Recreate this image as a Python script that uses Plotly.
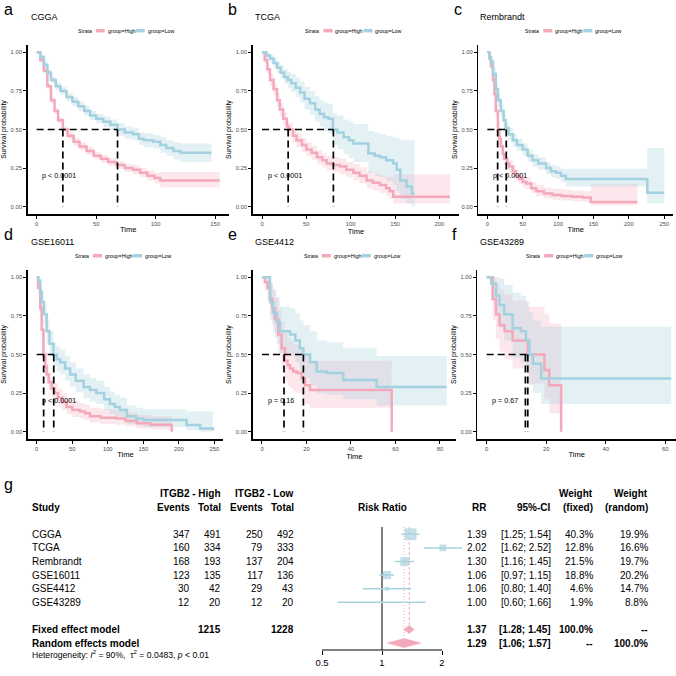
import math
import plotly.graph_objects as go

W = H = 676
FONT = "Liberation Sans, Arial, Helvetica, sans-serif"
PINK = "#F4A9BA"
BLUE = "#A3D1DF"
PINK_FILL = "rgba(244,169,186,0.28)"
BLUE_FILL = "rgba(163,209,223,0.30)"
SQ_BLUE = "#A9D3E0"

# ---------------- Kaplan-Meier data ----------------
datasets = ["CGGA", "TCGA", "Rembrandt", "GSE16011", "GSE4412", "GSE43289"]
panel_letters = ["a", "b", "c", "d", "e", "f"]
pvalues = ["p < 0.0001", "p < 0.0001", "p < 0.0001", "p < 0.0001", "p = 0.16", "p = 0.67"]
max_time = [154, 212, 250, 250, 83, 62]
median_high = [22, 29.5, 14.6, 9.8, 9.9, 13.8]
median_low = [68, 80.5, 26.8, 24, 18.6, 13.0]
x_ticks = [[0, 50, 100, 150], [0, 50, 100, 150, 200], [0, 50, 100, 150, 200, 250],
           [0, 50, 100, 150, 200, 250], [0, 20, 40, 60, 80], [0, 20, 40, 60]]
y_ticks = [0, 0.25, 0.5, 0.75, 1.0]

cgga_high_t = [0, 3, 6, 9, 12, 15, 18, 22, 26, 31, 36, 42, 48, 54, 60, 67, 74, 81, 87, 93, 99, 104, 154]
cgga_high_s = [1.00, 0.95, 0.88, 0.78, 0.69, 0.62, 0.56, 0.50, 0.46, 0.42, 0.39, 0.36, 0.33, 0.31, 0.29, 0.27, 0.25, 0.24, 0.22, 0.20, 0.185, 0.17, 0.17]
cgga_high_lo = [1.00, 0.93, 0.86, 0.76, 0.67, 0.60, 0.54, 0.48, 0.435, 0.395, 0.365, 0.335, 0.305, 0.285, 0.265, 0.245, 0.225, 0.21, 0.19, 0.17, 0.15, 0.125, 0.125]
cgga_high_hi = [1.00, 0.97, 0.90, 0.80, 0.71, 0.64, 0.58, 0.52, 0.485, 0.445, 0.415, 0.385, 0.355, 0.335, 0.315, 0.295, 0.275, 0.27, 0.25, 0.235, 0.22, 0.225, 0.225]

cgga_low_t = [0, 3, 6, 9, 12, 16, 20, 25, 30, 35, 40, 45, 50, 56, 62, 68, 74, 81, 86, 90, 98, 104, 109, 115, 121, 147]
cgga_low_s = [1.00, 0.97, 0.92, 0.87, 0.82, 0.78, 0.75, 0.71, 0.68, 0.65, 0.62, 0.59, 0.57, 0.55, 0.53, 0.50, 0.48, 0.47, 0.44, 0.43, 0.42, 0.40, 0.38, 0.36, 0.35, 0.35]
cgga_low_lo = [1.00, 0.955, 0.90, 0.85, 0.80, 0.755, 0.725, 0.685, 0.65, 0.62, 0.59, 0.56, 0.54, 0.515, 0.495, 0.46, 0.44, 0.43, 0.40, 0.385, 0.375, 0.35, 0.33, 0.305, 0.29, 0.29]
cgga_low_hi = [1.00, 0.985, 0.94, 0.89, 0.84, 0.805, 0.775, 0.735, 0.71, 0.68, 0.65, 0.62, 0.60, 0.585, 0.565, 0.54, 0.52, 0.51, 0.48, 0.475, 0.465, 0.45, 0.43, 0.415, 0.41, 0.41]

tcga_high_t = [0, 3, 6, 9, 13, 17, 20, 24, 28, 30, 35, 39, 45, 50, 56, 62, 68, 73, 80, 88, 95, 103, 110, 118, 125, 133, 140, 144, 148, 212]
tcga_high_s = [1.00, 0.95, 0.89, 0.82, 0.76, 0.69, 0.63, 0.57, 0.52, 0.50, 0.46, 0.43, 0.40, 0.37, 0.35, 0.32, 0.30, 0.28, 0.27, 0.26, 0.24, 0.22, 0.20, 0.17, 0.155, 0.14, 0.12, 0.10, 0.065, 0.065]
tcga_high_lo = [1.00, 0.93, 0.86, 0.78, 0.72, 0.645, 0.585, 0.525, 0.475, 0.455, 0.415, 0.385, 0.355, 0.325, 0.305, 0.275, 0.255, 0.235, 0.225, 0.21, 0.19, 0.17, 0.15, 0.12, 0.105, 0.09, 0.07, 0.05, 0.02, 0.02]
tcga_high_hi = [1.00, 0.97, 0.92, 0.86, 0.80, 0.735, 0.675, 0.615, 0.565, 0.545, 0.505, 0.475, 0.445, 0.415, 0.395, 0.365, 0.345, 0.33, 0.32, 0.31, 0.29, 0.275, 0.255, 0.23, 0.215, 0.205, 0.195, 0.19, 0.21, 0.21]

tcga_low_t = [0, 5, 9, 13, 17, 21, 25, 29, 33, 38, 43, 48, 54, 60, 65, 70, 75, 80, 85, 92, 98, 103, 118, 120, 127, 133, 140, 148, 152, 156, 163, 169, 172]
tcga_low_s = [1.00, 0.98, 0.96, 0.93, 0.90, 0.87, 0.84, 0.82, 0.80, 0.77, 0.74, 0.70, 0.67, 0.63, 0.60, 0.58, 0.57, 0.50, 0.48, 0.45, 0.43, 0.41, 0.41, 0.345, 0.33, 0.32, 0.30, 0.28, 0.24, 0.17, 0.13, 0.085, 0.085]
tcga_low_lo = [1.00, 0.965, 0.935, 0.90, 0.865, 0.83, 0.795, 0.77, 0.745, 0.71, 0.675, 0.63, 0.595, 0.55, 0.515, 0.49, 0.475, 0.40, 0.375, 0.34, 0.315, 0.29, 0.29, 0.22, 0.20, 0.19, 0.165, 0.14, 0.10, 0.05, 0.02, 0.0, 0.0]
tcga_low_hi = [1.00, 0.995, 0.985, 0.965, 0.94, 0.915, 0.89, 0.875, 0.86, 0.835, 0.81, 0.775, 0.75, 0.715, 0.69, 0.675, 0.665, 0.605, 0.59, 0.565, 0.55, 0.535, 0.535, 0.49, 0.48, 0.47, 0.46, 0.45, 0.44, 0.43, 0.43, 0.43, 0.43]

remb_high_t = [0, 3, 5, 8, 10, 12, 15, 17, 19, 22, 24, 28, 31, 36, 40, 45, 50, 55, 62, 69, 80, 92, 105, 120, 135, 146, 212]
remb_high_s = [1.00, 0.96, 0.91, 0.82, 0.73, 0.62, 0.50, 0.44, 0.39, 0.34, 0.31, 0.28, 0.26, 0.23, 0.20, 0.18, 0.16, 0.15, 0.12, 0.10, 0.085, 0.075, 0.07, 0.065, 0.06, 0.03, 0.03]
remb_high_lo = [1.00, 0.94, 0.88, 0.78, 0.69, 0.58, 0.46, 0.40, 0.35, 0.30, 0.27, 0.24, 0.22, 0.19, 0.165, 0.145, 0.125, 0.115, 0.09, 0.07, 0.055, 0.045, 0.04, 0.035, 0.03, 0.01, 0.01]
remb_high_hi = [1.00, 0.98, 0.94, 0.86, 0.77, 0.66, 0.54, 0.48, 0.43, 0.38, 0.35, 0.32, 0.30, 0.27, 0.24, 0.22, 0.20, 0.19, 0.16, 0.14, 0.125, 0.115, 0.11, 0.105, 0.10, 0.15, 0.15]

remb_low_t = [0, 3, 5, 8, 12, 15, 19, 23, 26, 30, 36, 42, 50, 57, 64, 72, 83, 90, 97, 104, 111, 226, 250]
remb_low_s = [1.00, 0.97, 0.94, 0.86, 0.76, 0.69, 0.62, 0.56, 0.51, 0.47, 0.43, 0.40, 0.37, 0.33, 0.30, 0.28, 0.25, 0.23, 0.22, 0.20, 0.18, 0.09, 0.09]
remb_low_lo = [1.00, 0.95, 0.91, 0.82, 0.72, 0.65, 0.58, 0.52, 0.47, 0.43, 0.39, 0.36, 0.33, 0.29, 0.26, 0.24, 0.21, 0.19, 0.18, 0.16, 0.13, 0.02, 0.02]
remb_low_hi = [1.00, 0.99, 0.97, 0.90, 0.80, 0.73, 0.66, 0.60, 0.55, 0.51, 0.47, 0.44, 0.41, 0.37, 0.34, 0.32, 0.29, 0.27, 0.26, 0.245, 0.245, 0.38, 0.38]

gse16011_high_t = [0, 2, 5, 7, 9.5, 12, 14, 17, 21, 25, 30, 36, 42, 50, 61, 68, 75, 90, 112, 125, 141, 160, 190]
gse16011_high_s = [1.00, 0.93, 0.80, 0.66, 0.50, 0.42, 0.37, 0.32, 0.28, 0.25, 0.22, 0.19, 0.16, 0.14, 0.13, 0.12, 0.10, 0.09, 0.085, 0.07, 0.055, 0.045, 0.0]
gse16011_high_lo = [1.00, 0.89, 0.74, 0.59, 0.43, 0.355, 0.31, 0.265, 0.225, 0.195, 0.17, 0.14, 0.115, 0.095, 0.085, 0.075, 0.06, 0.05, 0.045, 0.035, 0.02, 0.015, 0.0]
gse16011_high_hi = [1.00, 0.97, 0.86, 0.73, 0.57, 0.49, 0.44, 0.385, 0.345, 0.315, 0.28, 0.25, 0.22, 0.20, 0.185, 0.175, 0.155, 0.145, 0.14, 0.125, 0.11, 0.10, 0.10]

gse16011_low_t = [0, 2, 5, 7, 10, 14, 18, 23.5, 28, 33, 40, 47, 55, 66, 75, 84, 95, 103, 110, 117, 127, 140, 150, 192, 211, 230, 248]
gse16011_low_s = [1.00, 0.98, 0.91, 0.84, 0.76, 0.65, 0.57, 0.50, 0.47, 0.45, 0.41, 0.37, 0.33, 0.29, 0.27, 0.25, 0.21, 0.18, 0.16, 0.14, 0.10, 0.085, 0.075, 0.075, 0.043, 0.02, 0.01]
gse16011_low_lo = [1.00, 0.96, 0.87, 0.78, 0.69, 0.57, 0.49, 0.42, 0.39, 0.37, 0.33, 0.29, 0.255, 0.215, 0.195, 0.18, 0.14, 0.115, 0.10, 0.08, 0.05, 0.04, 0.03, 0.03, 0.01, 0.0, 0.0]
gse16011_low_hi = [1.00, 1.00, 0.95, 0.90, 0.83, 0.73, 0.65, 0.58, 0.55, 0.53, 0.49, 0.45, 0.41, 0.37, 0.35, 0.33, 0.29, 0.26, 0.24, 0.22, 0.17, 0.155, 0.145, 0.145, 0.13, 0.13, 0.13]

gse4412_high_t = [0, 1.3, 2.5, 3.6, 4.7, 5.8, 7.3, 8.8, 10.3, 11.5, 12.6, 14, 15.6, 17.8, 19.3, 21.6, 58.3]
gse4412_high_s = [1.00, 0.97, 0.93, 0.86, 0.80, 0.73, 0.63, 0.54, 0.46, 0.43, 0.41, 0.39, 0.38, 0.345, 0.30, 0.27, 0.0]
gse4412_high_lo = [1.00, 0.91, 0.85, 0.76, 0.69, 0.61, 0.50, 0.41, 0.33, 0.30, 0.28, 0.26, 0.25, 0.22, 0.18, 0.155, 0.0]
gse4412_high_hi = [1.00, 1.00, 1.00, 0.97, 0.92, 0.87, 0.79, 0.71, 0.64, 0.61, 0.59, 0.57, 0.56, 0.53, 0.49, 0.46, 0.46]

gse4412_low_t = [0, 2, 3.6, 5, 6.6, 8, 12.6, 15, 17, 18.6, 21.6, 24.6, 29, 36.5, 51.5, 83]
gse4412_low_s = [1.00, 1.00, 0.84, 0.77, 0.71, 0.65, 0.63, 0.59, 0.54, 0.50, 0.45, 0.39, 0.38, 0.335, 0.29, 0.29]
gse4412_low_lo = [1.00, 1.00, 0.72, 0.64, 0.57, 0.51, 0.49, 0.45, 0.39, 0.35, 0.30, 0.25, 0.24, 0.21, 0.17, 0.17]
gse4412_low_hi = [1.00, 1.00, 0.96, 0.92, 0.87, 0.81, 0.80, 0.77, 0.72, 0.69, 0.65, 0.59, 0.58, 0.54, 0.49, 0.49]

gse43289_high_t = [0, 0.9, 2, 3.1, 4.3, 6, 8.7, 13.8, 19.4, 21, 25]
gse43289_high_s = [1.00, 1.00, 0.86, 0.76, 0.69, 0.65, 0.59, 0.50, 0.40, 0.30, 0.0]
gse43289_high_lo = [1.00, 1.00, 0.72, 0.60, 0.52, 0.47, 0.41, 0.31, 0.21, 0.12, 0.0]
gse43289_high_hi = [1.00, 1.00, 1.00, 0.96, 0.92, 0.89, 0.85, 0.81, 0.76, 0.70, 0.70]

gse43289_low_t = [0, 1.5, 3.1, 4.3, 5.9, 8.7, 11.5, 13.2, 14.3, 15.5, 18.3, 62]
gse43289_low_s = [1.00, 0.96, 0.88, 0.82, 0.76, 0.67, 0.65, 0.59, 0.50, 0.44, 0.345, 0.345]
gse43289_low_lo = [1.00, 0.87, 0.75, 0.67, 0.59, 0.48, 0.45, 0.39, 0.30, 0.25, 0.18, 0.18]
gse43289_low_hi = [1.00, 1.00, 1.00, 0.99, 0.95, 0.90, 0.88, 0.84, 0.77, 0.72, 0.68, 0.68]

km_high = [
    (cgga_high_t, cgga_high_s, cgga_high_lo, cgga_high_hi),
    (tcga_high_t, tcga_high_s, tcga_high_lo, tcga_high_hi),
    (remb_high_t, remb_high_s, remb_high_lo, remb_high_hi),
    (gse16011_high_t, gse16011_high_s, gse16011_high_lo, gse16011_high_hi),
    (gse4412_high_t, gse4412_high_s, gse4412_high_lo, gse4412_high_hi),
    (gse43289_high_t, gse43289_high_s, gse43289_high_lo, gse43289_high_hi),
]
km_low = [
    (cgga_low_t, cgga_low_s, cgga_low_lo, cgga_low_hi),
    (tcga_low_t, tcga_low_s, tcga_low_lo, tcga_low_hi),
    (remb_low_t, remb_low_s, remb_low_lo, remb_low_hi),
    (gse16011_low_t, gse16011_low_s, gse16011_low_lo, gse16011_low_hi),
    (gse4412_low_t, gse4412_low_s, gse4412_low_lo, gse4412_low_hi),
    (gse43289_low_t, gse43289_low_s, gse43289_low_lo, gse43289_low_hi),
]

# ---------------- Meta-analysis data ----------------
studies = ["CGGA", "TCGA", "Rembrandt", "GSE16011", "GSE4412", "GSE43289"]
events_high = [347, 160, 168, 123, 30, 12]
total_high = [491, 334, 193, 135, 42, 20]
events_low = [250, 79, 137, 117, 29, 12]
total_low = [492, 333, 204, 136, 43, 20]
rr = [1.39, 2.02, 1.30, 1.06, 1.06, 1.00]
rr_lo = [1.25, 1.62, 1.16, 0.97, 0.80, 0.60]
rr_hi = [1.54, 2.52, 1.45, 1.15, 1.40, 1.66]
weight_fixed = [40.3, 12.8, 21.5, 18.8, 4.6, 1.9]
weight_random = [19.9, 16.6, 19.7, 20.2, 14.7, 8.8]
fixed_model = [1.37, 1.28, 1.45]     # estimate, lower, upper
random_model = [1.29, 1.06, 1.57]
sum_total_high = 1215
sum_total_low = 1228
forest_ticks = [0.5, 1, 2]
forest_ticktext = ["0.5", "1", "2"]
hetero_I2 = "90%"
hetero_tau2 = "0.0483"

# ---------------- layout geometry (pixels) ----------------
def px_x(p):
    return p / W

def px_y(p):
    return 1 - p / H

# (pixel of t=0, pixels per time unit, top pixel of panel)
panel_geom = [(36.7, 1.1887, 44.6), (262.0, 0.8867, 44.6), (487.3, 0.708, 44.6),
              (36.7, 0.7104, 269.6), (262.0, 2.225, 269.6), (486.7, 2.977, 269.6)]
PANEL_H = 169.8
title_x = [29, 253, 478, 29, 253, 478]
letter_x = [2, 226, 452, 2, 226, 450]

fig = go.Figure()
layout = dict(width=W, height=H, margin=dict(l=0, r=0, t=0, b=0),
              paper_bgcolor="white", plot_bgcolor="white", showlegend=False,
              font=dict(family=FONT, color="black"))
annotations = []
shapes = []

def axis_name(i, axis):
    return axis if i == 0 else f"{axis}{i + 1}"

for i, name in enumerate(datasets):
    x0p, scale, top = panel_geom[i]
    xm = max_time[i]
    left = x0p - 0.05 * xm * scale
    right = min(x0p + 1.05 * xm * scale, W)
    xr = [(left - x0p) / scale, (right - x0p) / scale]
    xa = "x" if i == 0 else f"x{i + 1}"
    ya = "y" if i == 0 else f"y{i + 1}"

    for data, col, fill in [(km_high[i], PINK, PINK_FILL), (km_low[i], BLUE, BLUE_FILL)]:
        t, s, lo, hi = data
        fig.add_trace(go.Scatter(x=t, y=lo, mode="lines", line=dict(width=0, shape="hv", color=col),
                                 xaxis=xa, yaxis=ya, hoverinfo="skip"))
        fig.add_trace(go.Scatter(x=t, y=hi, mode="lines", line=dict(width=0, shape="hv", color=col),
                                 fill="tonexty", fillcolor=fill, xaxis=xa, yaxis=ya, hoverinfo="skip"))
    for data, col in [(km_high[i], PINK), (km_low[i], BLUE)]:
        t, s, lo, hi = data
        fig.add_trace(go.Scatter(x=t, y=s, mode="lines", line=dict(width=2.5, shape="hv", color=col),
                                 xaxis=xa, yaxis=ya, hoverinfo="skip"))
    # median lines
    mh, ml = median_high[i], median_low[i]
    mx = max(mh, ml)
    fig.add_trace(go.Scatter(x=[0, mx, None, mh, mh, None, ml, ml], y=[0.5, 0.5, None, 0.5, 0, None, 0.5, 0],
                             mode="lines", line=dict(color="black", width=1.7, dash="7px,4px"),
                             xaxis=xa, yaxis=ya, hoverinfo="skip"))
    # p-value
    annotations.append(dict(text=pvalues[i], x=xm / 50, y=0.2, xref=xa, yref=ya, xanchor="left",
                            yanchor="middle", showarrow=False, font=dict(size=7.2, color="black")))

    layout[axis_name(i, "xaxis")] = dict(
        domain=[px_x(left), px_x(right)], range=xr, anchor=ya, tickvals=x_ticks[i],
        showline=True, linecolor="black", linewidth=1.5, ticks="outside", ticklen=3, tickwidth=1,
        tickcolor="black", tickfont=dict(size=5.8, color="#4D4D4D"), showgrid=False, zeroline=False,
        ticklabeloverflow="allow",
        title=dict(text="Time", font=dict(size=7.5), standoff=1), automargin=False)
    layout[axis_name(i, "yaxis")] = dict(
        domain=[px_y(top + PANEL_H), px_y(top)], range=[-0.05, 1.05], anchor=xa, tickvals=y_ticks,
        tickformat=".2f", showline=True, linecolor="black", linewidth=1.5, ticks="outside", ticklen=3,
        tickwidth=1, tickcolor="black", tickfont=dict(size=5.8, color="#4D4D4D"), showgrid=False,
        zeroline=False, ticklabeloverflow="allow",
        title=dict(text="Survival probability", font=dict(size=7), standoff=3),
        automargin=False)

    row_off = 0 if i < 3 else 225
    annotations.append(dict(text=panel_letters[i], x=px_x(letter_x[i]), y=px_y(10 + row_off),
                            xref="paper", yref="paper", xanchor="left", yanchor="middle",
                            showarrow=False, font=dict(size=16, color="black")))
    annotations.append(dict(text=name, x=px_x(title_x[i]), y=px_y(16.5 + row_off), xref="paper", yref="paper",
                            xanchor="left", yanchor="middle", showarrow=False, font=dict(size=9, color="black")))
    # legend
    cx = (left + right) / 2 - 1.5
    ly = 30.7 + row_off
    annotations.append(dict(text="Strata", x=px_x(cx - 33), y=px_y(ly), xref="paper", yref="paper",
                            xanchor="right", yanchor="middle", showarrow=False, font=dict(size=5.2)))
    shapes.append(dict(type="line", xref="paper", yref="paper", x0=px_x(cx - 31), x1=px_x(cx - 22),
                       y0=px_y(ly), y1=px_y(ly), line=dict(color=PINK, width=3.5)))
    annotations.append(dict(text="group=High", x=px_x(cx - 21), y=px_y(ly), xref="paper", yref="paper",
                            xanchor="left", yanchor="middle", showarrow=False, font=dict(size=5.3)))
    shapes.append(dict(type="line", xref="paper", yref="paper", x0=px_x(cx + 9), x1=px_x(cx + 18),
                       y0=px_y(ly), y1=px_y(ly), line=dict(color=BLUE, width=3.5)))
    annotations.append(dict(text="group=Low", x=px_x(cx + 19), y=px_y(ly), xref="paper", yref="paper",
                            xanchor="left", yanchor="middle", showarrow=False, font=dict(size=5.3)))

# ---------------- Forest plot ----------------
ROW0_PX = 534.3
ROW_STEP = 13.6

def row_of(p):
    return (p - ROW0_PX) / ROW_STEP + 1

study_rows = [1, 2, 3, 4, 5, 6]
fixed_row = 8
random_row = 9
F_TOP, F_BOT = 527.0, 650.0
F_LEFT, F_RIGHT = 300.0, 470.0
px_per_log = 60 / math.log10(2)
log_left = math.log10(0.5) - (322 - F_LEFT) / px_per_log
log_right = math.log10(2) + (F_RIGHT - 442) / px_per_log

layout["xaxis7"] = dict(domain=[px_x(F_LEFT), px_x(F_RIGHT)], type="log", range=[log_left, log_right],
                        anchor="y7", tickvals=forest_ticks, ticktext=forest_ticktext, showline=False,
                        ticks="outside", ticklen=4, tickwidth=1, tickcolor="black", showgrid=False,
                        zeroline=False, tickfont=dict(size=9.5, color="black"), automargin=False)
layout["yaxis7"] = dict(domain=[px_y(F_BOT), px_y(F_TOP)], range=[row_of(F_BOT), row_of(F_TOP)],
                        anchor="x7", visible=False, showgrid=False, zeroline=False)
shapes.append(dict(type="line", xref="x7", yref="y7 domain", x0=forest_ticks[0], x1=forest_ticks[-1],
                   y0=0, y1=0, line=dict(color="black", width=1)))

y_top = row_of(F_TOP)
y_bot = row_of(F_BOT)
fig.add_trace(go.Scatter(x=[1, 1], y=[y_top, y_bot], mode="lines", line=dict(color="black", width=1),
                         xaxis="x7", yaxis="y7", hoverinfo="skip"))
fig.add_trace(go.Scatter(x=[fixed_model[0], fixed_model[0]], y=[y_top, fixed_row - 0.3], mode="lines",
                         line=dict(color=PINK, width=1, dash="3px,2px"), xaxis="x7", yaxis="y7", hoverinfo="skip"))
fig.add_trace(go.Scatter(x=[random_model[0], random_model[0]], y=[y_top, random_row - 0.33], mode="lines",
                         line=dict(color=PINK, width=1, dash="1px,2px"), xaxis="x7", yaxis="y7", hoverinfo="skip"))
ci_x, ci_y = [], []
for lo, hi, r in zip(rr_lo, rr_hi, study_rows):
    ci_x += [lo, hi, None]
    ci_y += [r, r, None]
fig.add_trace(go.Scatter(x=ci_x, y=ci_y, mode="lines", line=dict(color=SQ_BLUE, width=1.5),
                         xaxis="x7", yaxis="y7", hoverinfo="skip"))
sizes = [12 * math.sqrt(w / max(weight_fixed)) for w in weight_fixed]
fig.add_trace(go.Scatter(x=rr, y=study_rows, mode="markers",
                         marker=dict(symbol="square", size=sizes, color=SQ_BLUE, line=dict(width=0)),
                         xaxis="x7", yaxis="y7", hoverinfo="skip"))
for model, r, hh in [(fixed_model, fixed_row, 0.3), (random_model, random_row, 0.33)]:
    est, lo, hi = model
    fig.add_trace(go.Scatter(x=[lo, est, hi, est, lo], y=[r, r - hh, r, r + hh, r], mode="lines",
                             fill="toself", fillcolor=PINK, line=dict(color=PINK, width=0.5),
                             xaxis="x7", yaxis="y7", hoverinfo="skip"))

def tab(text, xpx, y, yref="y7", anchor="right", size=10, bold=False):
    if bold:
        text = f"<b>{text}</b>"
    annotations.append(dict(text=text, x=px_x(xpx), y=y, xref="paper", yref=yref, xanchor=anchor,
                            yanchor="middle", showarrow=False, font=dict(size=size, color="black")))

H1 = px_y(494)
H2 = px_y(508)
annotations.append(dict(text="g", x=px_x(2), y=px_y(484), xref="paper", yref="paper", xanchor="left",
                        yanchor="middle", showarrow=False, font=dict(size=16, color="black")))
tab("Study", 30, H2, "paper", "left", bold=True)
tab("ITGB2 - High", 222.5, H1, "paper", bold=True)
tab("ITGB2 - Low", 296, H1, "paper", bold=True)
tab("Events", 192, H2, "paper", bold=True)
tab("Total", 222.5, H2, "paper", bold=True)
tab("Events", 265, H2, "paper", bold=True)
tab("Total", 296, H2, "paper", bold=True)
tab("Risk Ratio", 382, H2, "paper", "center", bold=True)
tab("RR", 488.5, H2, "paper", bold=True)
tab("95%-CI", 553, H2, "paper", bold=True)
tab("Weight", 595, H1, "paper", bold=True)
tab("(fixed)", 595, H2, "paper", bold=True)
tab("Weight", 649.5, H1, "paper", bold=True)
tab("(random)", 649.5, H2, "paper", bold=True)

for k, r in enumerate(study_rows):
    tab(studies[k], 30, r, anchor="left")
    tab(str(events_high[k]), 192, r)
    tab(str(total_high[k]), 222.5, r)
    tab(str(events_low[k]), 265, r)
    tab(str(total_low[k]), 296, r)
    tab(f"{rr[k]:.2f}", 488.5, r)
    tab(f"[{rr_lo[k]:.2f}; {rr_hi[k]:.2f}]", 553, r)
    tab(f"{weight_fixed[k]:.1f}%", 595, r)
    tab(f"{weight_random[k]:.1f}%", 649.5, r)

tab("Fixed effect model", 30, fixed_row, anchor="left", bold=True)
tab(str(sum_total_high), 222.5, fixed_row, bold=True)
tab(str(sum_total_low), 296, fixed_row, bold=True)
tab(f"{fixed_model[0]:.2f}", 488.5, fixed_row, bold=True)
tab(f"[{fixed_model[1]:.2f}; {fixed_model[2]:.2f}]", 553, fixed_row, bold=True)
tab("100.0%", 595, fixed_row, bold=True)
tab("--", 649.5, fixed_row, bold=True)
tab("Random effects model", 30, random_row, anchor="left", bold=True)
tab(f"{random_model[0]:.2f}", 488.5, random_row, bold=True)
tab(f"[{random_model[1]:.2f}; {random_model[2]:.2f}]", 553, random_row, bold=True)
tab("--", 595, random_row, bold=True)
tab("100.0%", 649.5, random_row, bold=True)
tab(f"Heterogeneity: <i>I</i><sup>2</sup> = {hetero_I2},  τ<sup>2</sup> = {hetero_tau2}, <i>p</i> &lt; 0.01",
    30, px_y(654.5), "paper", "left", size=8.6)

layout["annotations"] = annotations
layout["shapes"] = shapes
fig.update_layout(**layout)

post = ("document.body.style.margin='0px';document.body.style.padding='0px';"
        "document.body.style.overflow='hidden';")
fig.write_html("out.html", post_script=post,
               config={"displayModeBar": False, "staticPlot": True})
